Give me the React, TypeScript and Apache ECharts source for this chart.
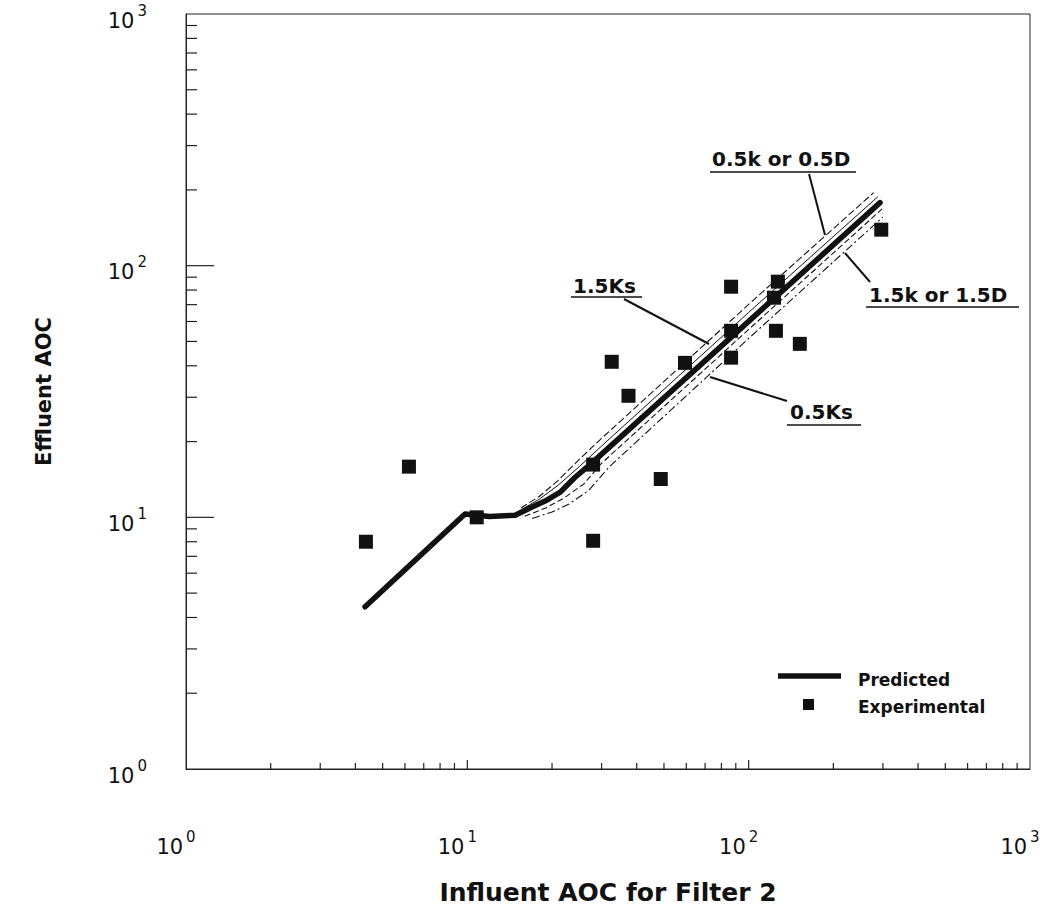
import React, { useEffect, useRef } from "react";
import * as echarts from "echarts";

// ---- data ----
const predictedX = [4.33, 9.81, 12.0, 14.8, 16.7, 18.9, 21.4, 24.1, 27.3, 89.5, 293];
const predictedY = [4.41, 10.3, 10.07, 10.2, 10.9, 11.6, 12.6, 14.4, 16.2, 53.7, 178];

const experimentalX = [4.36, 6.2, 10.8, 28.0, 28.0, 32.6, 37.4, 48.7, 59.4, 86.6, 86.6, 86.6, 127, 123, 125, 152, 296];
const experimentalY = [8.0, 15.9, 10.0, 8.07, 16.2, 41.5, 30.4, 14.2, 41.1, 82.5, 55.1, 43.1, 86.4, 74.6, 55.1, 48.9, 139];

// sensitivity band lines
const band05kX = [15.5, 18, 21, 25, 30, 100, 278];
const band05kY = [10.9, 12.1, 14.0, 17.0, 20.6, 70.2, 195];
const band15KsX = [15.5, 18, 21, 25, 30, 100, 288];
const band15KsY = [10.7, 11.8, 13.4, 15.9, 19.2, 65.2, 188];
const band05KsX = [16, 19, 22, 26, 30, 100, 298];
const band05KsY = [10.1, 10.9, 11.9, 13.6, 16.4, 55.8, 168];
const band15kX = [17, 20, 23, 27, 32, 100, 300];
const band15kY = [9.9, 10.5, 11.3, 12.8, 15.9, 51.4, 156];

const decades = [1, 10, 100];
const tickMultipliers = [2, 3, 4, 5, 6, 7, 8, 9];
const majorTicks = [10, 100];

const pairs = (xs: number[], ys: number[]) => xs.map((x, i) => [x, ys[i]]);

const FONT = "DejaVu Sans";
const INK = "#111";

export default function App() {
  const ref = useRef<HTMLDivElement>(null);

  useEffect(() => {
    document.body.style.margin = "0";
    const chart = echarts.init(ref.current!, undefined, { renderer: "svg" });

    const minorVals: number[] = [];
    decades.forEach((d) => tickMultipliers.forEach((m) => minorVals.push(m * d)));

    const yTickData = [
      ...minorVals.map((v) => [1, v, 11]),
      ...majorTicks.map((v) => [1, v, 28]),
    ];
    const xTickData = [
      ...minorVals.map((v) => [v, 1, 6]),
      ...majorTicks.map((v) => [v, 1, 9]),
    ];

    const labelFormatter = (v: number) => `{b|10}{s|${Math.round(Math.log10(v))}}`;
    const rich = {
      b: { fontSize: 21, fontFamily: FONT, color: INK, lineHeight: 28, verticalAlign: "bottom" },
      s: { fontSize: 15, fontFamily: FONT, color: INK, lineHeight: 28, verticalAlign: "top", padding: [0, 0, 0, 3] },
    };

    const bandStyle = (type: any, width = 1.1) => ({
      color: INK,
      width,
      type,
    });

    const text = (t: string, x: number, y: number, size: number, align = "left") => ({
      type: "text",
      x,
      y,
      silent: true,
      style: {
        text: t,
        fill: INK,
        font: `bold ${size}px "${FONT}"`,
        fontFamily: FONT,
        fontSize: size,
        fontWeight: "bold",
        align,
        textAlign: align,
        verticalAlign: "middle",
        textVerticalAlign: "middle",
      },
    });
    const seg = (x1: number, y1: number, x2: number, y2: number, w = 2) => ({
      type: "line",
      silent: true,
      shape: { x1, y1, x2, y2 },
      style: { stroke: INK, lineWidth: w },
    });

    chart.setOption({
      animation: false,
      backgroundColor: "#fff",
      grid: {
        left: 186,
        right: 25,
        top: 14,
        bottom: 152,
        show: true,
        borderColor: "#222",
        borderWidth: 1,
        backgroundColor: "transparent",
      },
      xAxis: {
        type: "log",
        logBase: 10,
        min: 1,
        max: 1000,
        axisLine: { show: true, lineStyle: { color: "#222", width: 1 } },
        axisTick: { show: false },
        splitLine: { show: false },
        minorTick: { show: false },
        axisLabel: {
          formatter: labelFormatter,
          rich,
          margin: 60,
          padding: [0, 20, 0, 0],
          showMinLabel: true,
          showMaxLabel: true,
        },
        name: "Influent AOC for Filter 2",
        nameLocation: "middle",
        nameGap: 111,
        nameTextStyle: { fontFamily: FONT, fontWeight: "bold", fontSize: 25, color: INK },
      },
      yAxis: {
        type: "log",
        logBase: 10,
        min: 1,
        max: 1000,
        axisLine: { show: true, lineStyle: { color: "#222", width: 1 } },
        axisTick: { show: false },
        splitLine: { show: false },
        minorTick: { show: false },
        axisLabel: {
          formatter: labelFormatter,
          rich,
          margin: 39,
          padding: [6, 0, 0, 0],
          showMinLabel: true,
          showMaxLabel: true,
        },
        name: "Effluent AOC",
        nameLocation: "middle",
        nameGap: 132,
        nameTextStyle: { fontFamily: FONT, fontWeight: "bold", fontSize: 21, color: INK },
      },
      series: [
        {
          name: "yTicks",
          type: "custom",
          silent: true,
          clip: false,
          data: yTickData,
          renderItem: (_p: any, api: any) => {
            const pt = api.coord([api.value(0), api.value(1)]);
            const len = api.value(2);
            return {
              type: "line",
              shape: { x1: pt[0], y1: pt[1], x2: pt[0] + len, y2: pt[1] },
              style: { stroke: "#222", lineWidth: 1.2 },
            };
          },
          z: 1,
        },
        {
          name: "xTicks",
          type: "custom",
          silent: true,
          clip: false,
          data: xTickData,
          renderItem: (_p: any, api: any) => {
            const pt = api.coord([api.value(0), api.value(1)]);
            const len = api.value(2);
            return {
              type: "line",
              shape: { x1: pt[0], y1: pt[1], x2: pt[0], y2: pt[1] - len },
              style: { stroke: "#222", lineWidth: 1.2 },
            };
          },
          z: 1,
        },
        {
          name: "0.5k or 0.5D",
          type: "line",
          data: pairs(band05kX, band05kY),
          symbol: "none",
          lineStyle: bandStyle([7, 3]),
          z: 2,
        },
        {
          name: "1.5Ks",
          type: "line",
          data: pairs(band15KsX, band15KsY),
          symbol: "none",
          lineStyle: bandStyle("solid", 1),
          z: 2,
        },
        {
          name: "0.5Ks",
          type: "line",
          data: pairs(band05KsX, band05KsY),
          symbol: "none",
          lineStyle: bandStyle([6, 3]),
          z: 2,
        },
        {
          name: "1.5k or 1.5D",
          type: "line",
          data: pairs(band15kX, band15kY),
          symbol: "none",
          lineStyle: bandStyle([8, 3, 2, 3]),
          z: 2,
        },
        {
          name: "Predicted",
          type: "line",
          data: pairs(predictedX, predictedY),
          symbol: "none",
          lineStyle: { color: INK, width: 5.5, cap: "round", join: "round" },
          z: 3,
        },
        {
          name: "Experimental",
          type: "scatter",
          data: pairs(experimentalX, experimentalY),
          symbol: "rect",
          symbolSize: 14,
          itemStyle: { color: INK, opacity: 1 },
          z: 4,
        },
      ],
      graphic: [
        // annotations
        text("0.5k or 0.5D", 712, 159, 20),
        seg(710, 172, 856, 172, 1.6),
        seg(809, 174, 825, 235),
        text("1.5Ks", 573, 286, 20),
        seg(571, 297, 642, 297, 1.6),
        seg(624, 299, 709, 344),
        text("1.5k or 1.5D", 869, 295, 20),
        seg(866, 307, 1019, 307, 1.6),
        seg(870, 282, 845, 253),
        text("0.5Ks", 790, 412, 20),
        seg(787, 425, 861, 425, 1.6),
        seg(787, 401, 710, 377),
        // legend
        seg(778, 676, 841, 676, 5.5),
        text("Predicted", 858, 680, 17),
        {
          type: "rect",
          silent: true,
          shape: { x: 803, y: 699, width: 11, height: 11 },
          style: { fill: INK },
        },
        text("Experimental", 858, 707, 17),
      ],
    });

    return () => chart.dispose();
  }, []);

  return <div ref={ref} style={{ width: 1055, height: 921 }} />;
}
